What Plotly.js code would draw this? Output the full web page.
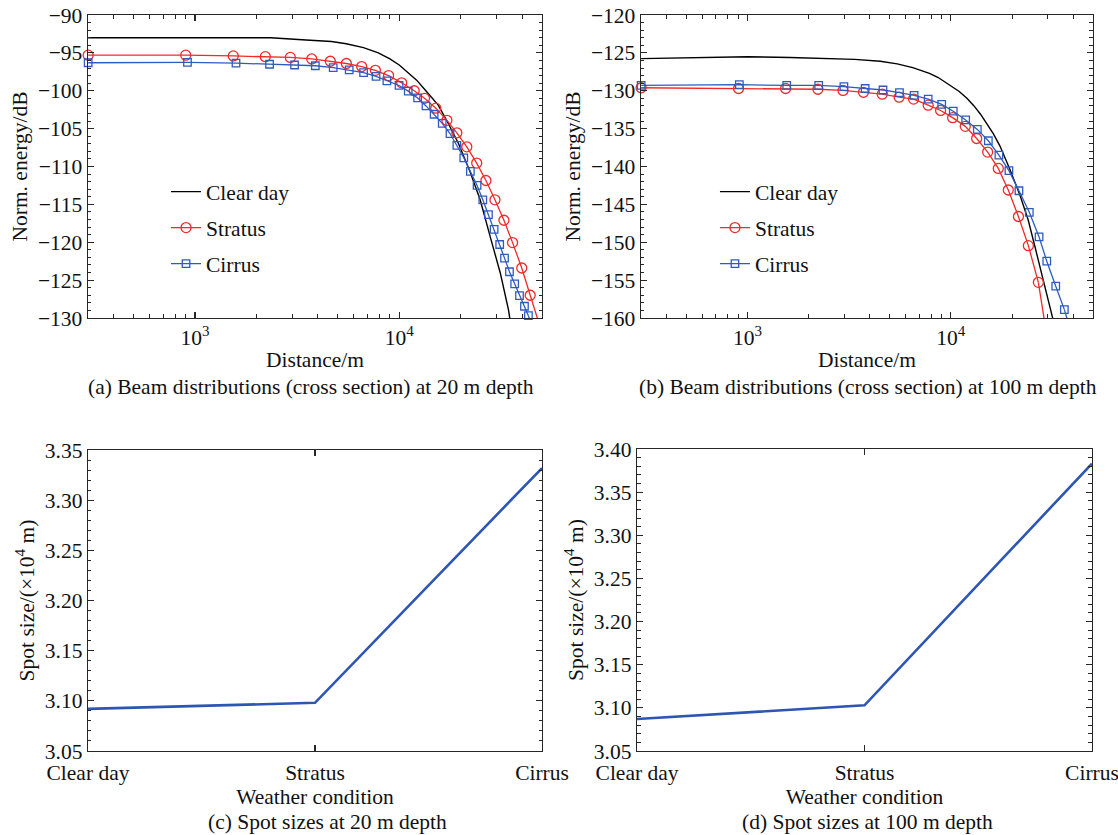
<!DOCTYPE html>
<html>
<head>
<meta charset="utf-8">
<script src="https://cdn.plot.ly/plotly-3.0.1.min.js"></script>
<style>html,body{margin:0;padding:0;background:#fff;}#chart{width:1118px;height:835px;}</style>
</head>
<body>
<div id="chart"></div>
<script>
// ---------- (a) Beam distributions at 20 m depth ----------
const distA_clear   = [300, 1000, 2350, 3500, 4660, 5500, 6680, 7900, 9000, 10000, 11200, 12170, 13500, 15520, 17060, 19450, 22220, 24900, 27900, 31270, 34250, 35000];
const energyA_clear = [-93.0, -93.0, -93.0, -93.3, -93.5, -93.8, -94.3, -95.0, -95.8, -96.6, -97.7, -98.6, -100.0, -101.9, -103.9, -106.9, -110.7, -114.4, -119.3, -124.1, -128.9, -130.5];

const distA_stratus   = [300, 901, 1540, 2210, 2930, 3730, 4600, 5510, 6550, 7640, 8870, 10280, 11840, 13300, 15100, 17120, 19140, 21420, 23950, 26570, 29420, 32550, 35880, 39790, 43770];
const energyA_stratus = [-95.3, -95.3, -95.4, -95.5, -95.6, -95.8, -96.1, -96.4, -96.8, -97.3, -98.0, -98.95, -100.0, -101.0, -102.3, -103.9, -105.55, -107.4, -109.55, -111.85, -114.4, -117.1, -120.05, -123.4, -127.0];
const distA_stratusTail   = [43770, 49500];
const energyA_stratusTail = [-127.0, -131.6];

const distA_cirrus   = [300, 919, 1588, 2318, 3073, 3883, 4750, 5690, 6690, 7700, 8700, 9980, 11070, 12300, 13520, 14820, 16240, 17720, 19150, 20700, 22300, 24050, 25650, 27340, 29140, 31030, 32770, 34650, 36740, 38800, 41030, 42900];
const energyA_cirrus = [-96.3, -96.25, -96.35, -96.5, -96.6, -96.7, -96.95, -97.25, -97.6, -98.1, -98.7, -99.3, -100.05, -100.95, -102.0, -103.1, -104.3, -105.65, -107.2, -108.85, -110.65, -112.5, -114.4, -116.35, -118.3, -120.3, -122.1, -123.9, -125.5, -127.05, -128.45, -129.7];
const distA_cirrusTail   = [42900, 44500];
const energyA_cirrusTail = [-129.7, -131.0];

// ---------- (b) Beam distributions at 100 m depth ----------
const distB_clear   = [300, 1000, 1620, 3360, 4500, 5450, 6500, 7850, 8670, 10000, 11000, 12000, 13000, 14000, 15000, 16200, 17450, 19530, 21890, 24040, 25930, 27980, 30180, 31700, 32500];
const energyB_clear = [-125.75, -125.5, -125.6, -125.85, -126.1, -126.45, -126.95, -127.7, -128.25, -129.3, -130.1, -131.0, -132.0, -133.1, -134.3, -135.7, -137.3, -140.4, -143.8, -147.1, -150.6, -154.1, -157.6, -160.0, -161.2];

const distB_stratus   = [300, 904, 1540, 2220, 2950, 3720, 4600, 5570, 6560, 7740, 8910, 10210, 11780, 13400, 15180, 17120, 19170, 21500, 24060, 26950];
const energyB_stratus = [-129.6, -129.7, -129.7, -129.8, -129.95, -130.2, -130.45, -130.85, -131.1, -131.9, -132.6, -133.55, -134.7, -136.3, -138.1, -140.25, -143.1, -146.6, -150.45, -155.3];
const distB_stratusTail   = [26950, 29300];
const energyB_stratusTail = [-155.3, -161.5];

const distB_cirrus   = [300, 912, 1560, 2240, 2980, 3790, 4640, 5590, 6600, 7740, 9020, 10280, 11830, 13500, 15290, 17240, 19310, 21630, 24320, 27170, 29640, 32810, 36170];
const energyB_cirrus = [-129.3, -129.2, -129.3, -129.3, -129.45, -129.7, -129.9, -130.25, -130.6, -131.1, -131.8, -132.7, -133.85, -135.1, -136.6, -138.5, -140.55, -143.2, -146.05, -149.3, -152.5, -155.8, -158.9];
const distB_cirrusTail   = [36170, 37800];
const energyB_cirrusTail = [-158.9, -160.6];

// ---------- (c), (d) Spot sizes ----------
const weather   = ['Clear day', 'Stratus', 'Cirrus'];
const spot20m   = [3.092, 3.098, 3.332];
const spot100m  = [3.087, 3.103, 3.383];

const seriesNames = ['Clear day', 'Stratus', 'Cirrus'];
const xTickVals = [1000, 10000];
const xTickText = ['10<sup>3</sup>', '10<sup>4</sup>'];
const captions = [
  '(a) Beam distributions (cross section) at 20 m depth',
  '(b) Beam distributions (cross section) at 100 m depth',
  '(c) Spot sizes at 20 m depth',
  '(d) Spot sizes at 100 m depth'
];

// ---------- styling ----------
const FONT = 'Liberation Serif, Times New Roman, serif';
const FS = 21.5;
const AX = '#262626';
const RED = '#f02a2a';
const BLUE = '#2f5bbf';
const SPOT = '#2d55b4';

const minorLog = [];
[100, 1000, 10000].forEach(d => { for (let k = 2; k <= 9; k++) { const v = k * d; if (v >= 300 && v <= 50000) minorLog.push(v); } });

function baseAxis(extra) {
  return Object.assign({
    showline: true, linecolor: AX, linewidth: 1.3, mirror: 'ticks',
    ticks: 'inside', ticklen: 6, tickwidth: 1.1, tickcolor: AX,
    showgrid: false, zeroline: false,
    tickfont: {family: FONT, size: FS, color: '#111'}
  }, extra);
}
function axTitle(text, standoff) {
  return {text: text, font: {family: FONT, size: FS, color: '#111'}, standoff: standoff};
}

const traces = [];
function beamTraces(xC, yC, xS, yS, xSt, ySt, xR, yR, xRt, yRt, xa, ya, leg, grp) {
  traces.push({x: xC, y: yC, xaxis: xa, yaxis: ya, mode: 'lines', name: seriesNames[0], legend: leg, legendgroup: grp + '1',
    line: {color: '#000', width: 1.4}});
  traces.push({x: xS, y: yS, xaxis: xa, yaxis: ya, mode: 'lines+markers', name: seriesNames[1], legend: leg, legendgroup: grp + '2',
    cliponaxis: false,
    line: {color: RED, width: 1.3}, marker: {symbol: 'circle-open', size: 10, color: RED, line: {width: 1.3, color: RED}}});
  traces.push({x: xSt, y: ySt, xaxis: xa, yaxis: ya, mode: 'lines', showlegend: false, legendgroup: grp + '2',
    line: {color: RED, width: 1.3}, hoverinfo: 'skip'});
  traces.push({x: xR, y: yR, xaxis: xa, yaxis: ya, mode: 'lines+markers', name: seriesNames[2], legend: leg, legendgroup: grp + '3',
    cliponaxis: false,
    line: {color: BLUE, width: 1.3}, marker: {symbol: 'square-open', size: 7.5, color: BLUE, line: {width: 1.3, color: BLUE}}});
  traces.push({x: xRt, y: yRt, xaxis: xa, yaxis: ya, mode: 'lines', showlegend: false, legendgroup: grp + '3',
    line: {color: BLUE, width: 1.3}, hoverinfo: 'skip'});
}
beamTraces(distA_clear, energyA_clear, distA_stratus, energyA_stratus, distA_stratusTail, energyA_stratusTail,
  distA_cirrus, energyA_cirrus, distA_cirrusTail, energyA_cirrusTail, 'x', 'y', 'legend', 'a');
beamTraces(distB_clear, energyB_clear, distB_stratus, energyB_stratus, distB_stratusTail, energyB_stratusTail,
  distB_cirrus, energyB_cirrus, distB_cirrusTail, energyB_cirrusTail, 'x2', 'y2', 'legend2', 'b');

traces.push({x: weather, y: spot20m, xaxis: 'x3', yaxis: 'y3', mode: 'lines', showlegend: false, line: {color: SPOT, width: 2.6}});
traces.push({x: weather, y: spot100m, xaxis: 'x4', yaxis: 'y4', mode: 'lines', showlegend: false, line: {color: SPOT, width: 2.6}});

const logRange = [Math.log10(299.4), Math.log10(50000)];
const legendCommon = {
  font: {family: FONT, size: FS, color: '#111'}, bgcolor: 'rgba(0,0,0,0)', borderwidth: 0,
  traceorder: 'grouped', tracegroupgap: 5, xanchor: 'left', yanchor: 'top'
};

const layout = {
  width: 1118, height: 835,
  margin: {l: 0, r: 0, t: 0, b: 0},
  paper_bgcolor: '#fff', plot_bgcolor: '#fff',
  font: {family: FONT, size: FS, color: '#111'},
  showlegend: true,
  legend: Object.assign({x: 0.1485, y: 0.795}, legendCommon),
  legend2: Object.assign({x: 0.6395, y: 0.795}, legendCommon),
  xaxis: baseAxis({domain: [0.0787, 0.4848], anchor: 'y', type: 'log', range: logRange,
    tickvals: xTickVals, ticktext: xTickText,
    minor: {ticks: 'inside', ticklen: 3.5, tickwidth: 1, tickcolor: AX, tickvals: minorLog},
    title: axTitle('Distance/m', 3)}),
  yaxis: baseAxis({domain: [0.6192, 0.982], anchor: 'x', range: [-130, -90], dtick: 5, tick0: -90,
    minor: {ticks: 'inside', ticklen: 3.5, tickwidth: 1, tickcolor: AX, dtick: 1},
    title: axTitle('Norm. energy/dB', 4)}),
  xaxis2: baseAxis({domain: [0.5733, 0.9776], anchor: 'y2', type: 'log', range: logRange,
    tickvals: xTickVals, ticktext: xTickText,
    minor: {ticks: 'inside', ticklen: 3.5, tickwidth: 1, tickcolor: AX, tickvals: minorLog},
    title: axTitle('Distance/m', 3)}),
  yaxis2: baseAxis({domain: [0.6192, 0.982], anchor: 'x2', range: [-160, -120], dtick: 5, tick0: -120,
    minor: {ticks: 'inside', ticklen: 3.5, tickwidth: 1, tickcolor: AX, dtick: 1},
    title: axTitle('Norm. energy/dB', 4)}),
  xaxis3: baseAxis({domain: [0.0787, 0.4848], anchor: 'y3', type: 'category', range: [0, 2], ticklabelstandoff: 2,
    title: axTitle('Weather condition', 0)}),
  yaxis3: baseAxis({domain: [0.1006, 0.4611], anchor: 'x3', range: [3.05, 3.35], dtick: 0.05, tick0: 3.05, tickformat: '.2f',
    minor: {ticks: 'inside', ticklen: 3.5, tickwidth: 1, tickcolor: AX, dtick: 0.01},
    title: axTitle('Spot size/(×10<sup>4</sup> m)', 4)}),
  xaxis4: baseAxis({domain: [0.5698, 0.9767], anchor: 'y4', type: 'category', range: [0, 2], ticklabelstandoff: 2,
    title: axTitle('Weather condition', 0)}),
  yaxis4: baseAxis({domain: [0.1006, 0.4623], anchor: 'x4', range: [3.05, 3.40], dtick: 0.05, tick0: 3.05, tickformat: '.2f',
    minor: {ticks: 'inside', ticklen: 3.5, tickwidth: 1, tickcolor: AX, dtick: 0.01},
    title: axTitle('Spot size/(×10<sup>4</sup> m)', 4)}),
  annotations: [
    {text: captions[0], x: 0.278, y: 0.5365},
    {text: captions[1], x: 0.776, y: 0.5365},
    {text: captions[2], x: 0.2925, y: 0.0156},
    {text: captions[3], x: 0.776, y: 0.0156}
  ].map(a => Object.assign({xref: 'paper', yref: 'paper', xanchor: 'center', yanchor: 'middle', showarrow: false,
    font: {family: FONT, size: FS, color: '#111'}}, a))
};

Plotly.newPlot('chart', traces, layout, {displayModeBar: false, staticPlot: true});
</script>
</body>
</html>
